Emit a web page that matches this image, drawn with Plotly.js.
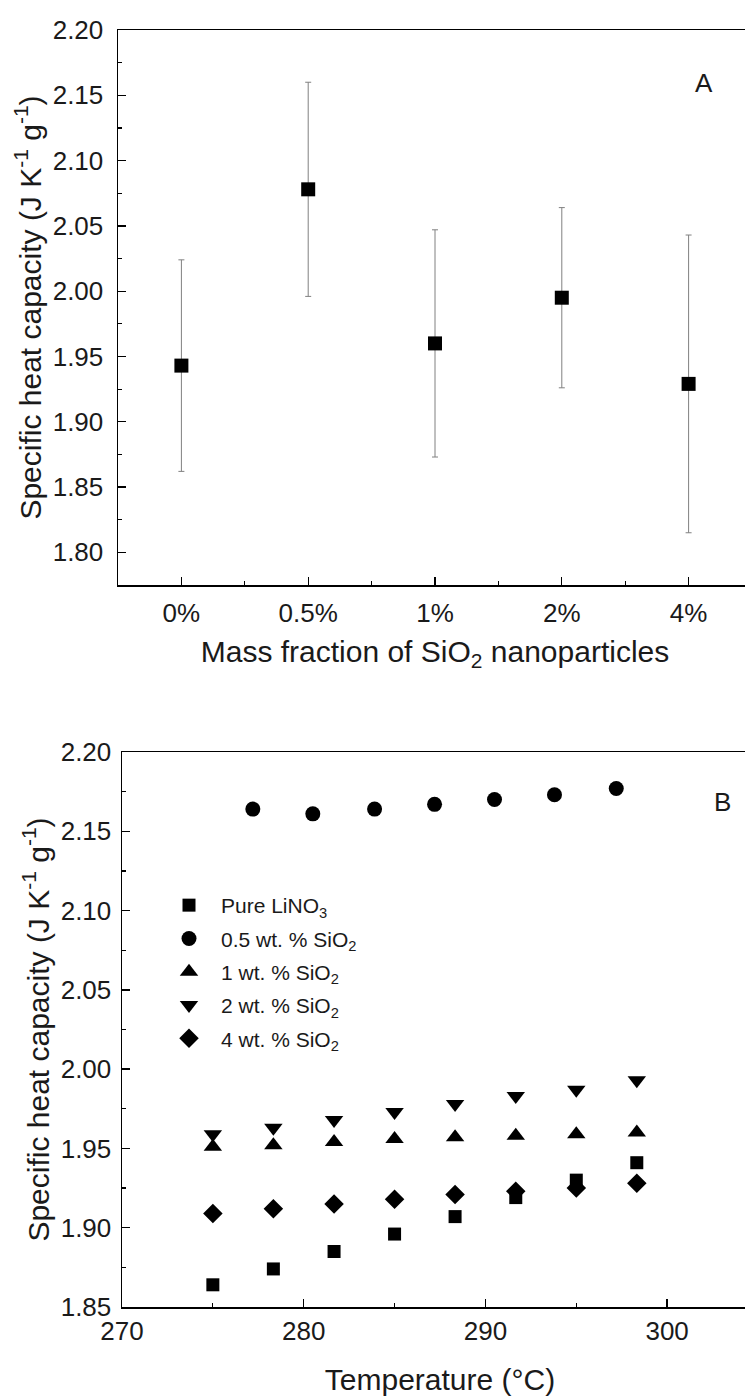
<!DOCTYPE html>
<html>
<head>
<meta charset="utf-8">
<script src="https://cdn.plot.ly/plotly-3.0.1.min.js"></script>
<style>
html,body{margin:0;padding:0;overflow:hidden;background:#fff;}
#chart{width:760px;height:1396px;}
</style>
</head>
<body>
<div id="chart"></div>
<script>
// ---- Panel A data ----
const massFractions = ['0%', '0.5%', '1%', '2%', '4%'];
const cpMean = [1.943, 2.078, 1.960, 1.995, 1.929];
const cpErr = [0.081, 0.082, 0.087, 0.069, 0.114];

// ---- Panel B data ----
const tempMain = [275, 278.33, 281.67, 285, 288.33, 291.67, 295, 298.33];
const tempHalf = [277.2, 280.5, 283.9, 287.2, 290.5, 293.8, 297.2];
const cpPure = [1.864, 1.874, 1.885, 1.896, 1.907, 1.919, 1.930, 1.941];
const cpHalf = [2.164, 2.161, 2.164, 2.167, 2.170, 2.173, 2.177];
const cpOne = [1.951, 1.952, 1.954, 1.956, 1.957, 1.958, 1.959, 1.960];
const cpTwo = [1.959, 1.963, 1.968, 1.973, 1.978, 1.983, 1.987, 1.993];
const cpFour = [1.909, 1.912, 1.915, 1.918, 1.921, 1.923, 1.925, 1.928];

const seriesNames = ['Pure LiNO<sub>3</sub>', '0.5 wt. % SiO<sub>2</sub>', '1 wt. % SiO<sub>2</sub>',
                     '2 wt. % SiO<sub>2</sub>', '4 wt. % SiO<sub>2</sub>'];

const W = 760, H = 1396;
const FONT = 'Liberation Sans, Arial, sans-serif';
const TXT = '#1a1a1a';

const catIdx = massFractions.map((_, i) => i);

const traces = [
  {
    x: catIdx, y: cpMean, type: 'scatter', mode: 'markers', xaxis: 'x', yaxis: 'y',
    marker: {symbol: 'square', size: 14, color: '#000'},
    error_y: {type: 'data', array: cpErr, visible: true, color: '#808080', thickness: 1, width: 3},
    showlegend: false
  },
  {x: tempMain, y: cpPure, name: seriesNames[0], legendgroup: 'g0', type: 'scatter', mode: 'markers',
   xaxis: 'x2', yaxis: 'y2', marker: {symbol: 'square', size: 13, color: '#000'}},
  {x: tempHalf, y: cpHalf, name: seriesNames[1], legendgroup: 'g1', type: 'scatter', mode: 'markers',
   xaxis: 'x2', yaxis: 'y2', marker: {symbol: 'circle', size: 15, color: '#000'}},
  {x: tempMain, y: cpOne, name: seriesNames[2], legendgroup: 'g2', type: 'scatter', mode: 'markers',
   xaxis: 'x2', yaxis: 'y2', marker: {symbol: 'triangle-up', size: 16, color: '#000'}},
  {x: tempMain, y: cpTwo, name: seriesNames[3], legendgroup: 'g3', type: 'scatter', mode: 'markers',
   xaxis: 'x2', yaxis: 'y2', marker: {symbol: 'triangle-down', size: 16, color: '#000'}},
  {x: tempMain, y: cpFour, name: seriesNames[4], legendgroup: 'g4', type: 'scatter', mode: 'markers',
   xaxis: 'x2', yaxis: 'y2', marker: {symbol: 'diamond', size: 15, color: '#000'}}
];

const TICKSZ = 26, TITLESZ = 30;
const axCommon = {
  showline: true, mirror: true, linecolor: '#000', linewidth: 1.5,
  ticks: 'inside', ticklen: 8, tickwidth: 1.3, tickcolor: '#000',
  showgrid: false, zeroline: false,
  tickfont: {family: FONT, size: TICKSZ, color: TXT}
};
const minorCommon = {ticks: 'inside', ticklen: 4, tickwidth: 1.2, tickcolor: '#000', showgrid: false};
const titleFont = {family: FONT, size: TITLESZ, color: TXT};
const yTitle = 'Specific heat capacity (J K<sup>-1</sup> g<sup>-1</sup>)';

function px2x(p) { return p / W; }
function py2y(p) { return 1 - p / H; }

const layout = {
  width: W, height: H,
  margin: {l: 0, r: 0, t: 0, b: 0},
  paper_bgcolor: '#fff', plot_bgcolor: '#fff',
  font: {family: FONT, color: TXT},
  xaxis: Object.assign({}, axCommon, {
    domain: [px2x(118), px2x(752)], anchor: 'y',
    range: [-0.5, 4.5], tickmode: 'array', tickvals: catIdx, ticktext: massFractions,
    minor: Object.assign({}, minorCommon, {dtick: 0.5, tick0: 0}),
    ticklabelstandoff: 4,
    title: {text: 'Mass fraction of SiO<sub>2</sub> nanoparticles', standoff: 14, font: titleFont}
  }),
  yaxis: Object.assign({}, axCommon, {
    domain: [py2y(585), py2y(30)], anchor: 'x',
    range: [1.775, 2.20], dtick: 0.05, tick0: 1.80, tickformat: '.2f',
    minor: Object.assign({}, minorCommon, {dtick: 0.025, tick0: 1.775}),
    ticklabelstandoff: 8,
    title: {text: yTitle, standoff: 2, font: titleFont}
  }),
  xaxis2: Object.assign({}, axCommon, {
    domain: [px2x(122), px2x(758)], anchor: 'y2',
    range: [270, 305], dtick: 10, tick0: 270,
    minor: Object.assign({}, minorCommon, {dtick: 5, tick0: 270}),
    ticklabelstandoff: 0,
    title: {text: 'Temperature (°C)', standoff: 30, font: titleFont}
  }),
  yaxis2: Object.assign({}, axCommon, {
    domain: [py2y(1307), py2y(752)], anchor: 'x2',
    range: [1.85, 2.20], dtick: 0.05, tick0: 1.85, tickformat: '.2f',
    minor: Object.assign({}, minorCommon, {dtick: 0.025, tick0: 1.85}),
    ticklabelstandoff: 4,
    title: {text: yTitle, standoff: 2, font: titleFont}
  }),
  showlegend: true,
  legend: {
    x: px2x(157), y: py2y(885), xanchor: 'left', yanchor: 'top',
    bgcolor: 'rgba(0,0,0,0)', borderwidth: 0,
    font: {family: FONT, size: 21, color: TXT},
    tracegroupgap: 3, itemclick: false, itemwidth: 54
  },
  annotations: [
    {text: 'A', xref: 'paper', yref: 'paper', x: px2x(704), y: py2y(83), showarrow: false,
     xanchor: 'center', yanchor: 'middle', font: {family: FONT, size: 26, color: TXT}},
    {text: 'B', xref: 'paper', yref: 'paper', x: px2x(722), y: py2y(802), showarrow: false,
     xanchor: 'center', yanchor: 'middle', font: {family: FONT, size: 26, color: TXT}}
  ]
};

Plotly.newPlot('chart', traces, layout, {displayModeBar: false, staticPlot: true});
</script>
</body>
</html>
